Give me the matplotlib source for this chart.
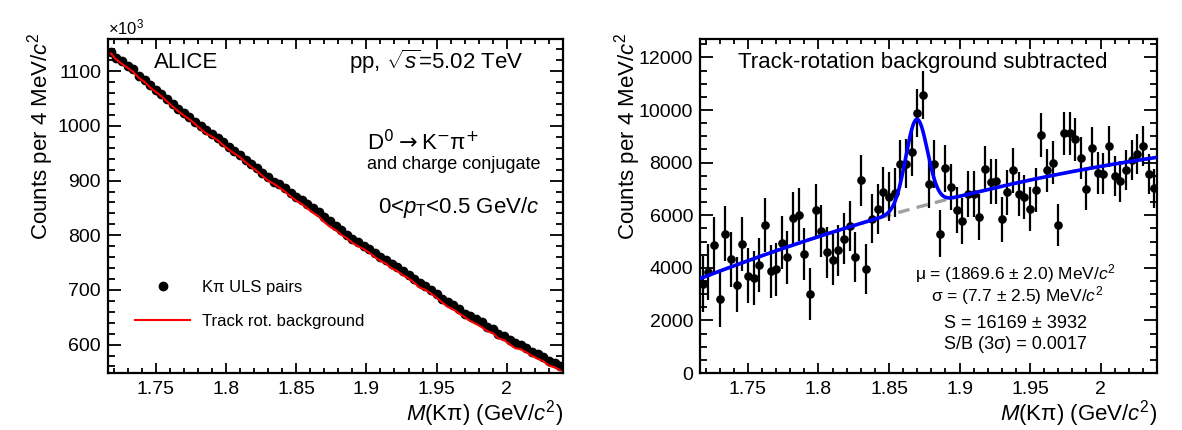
import numpy as np
import matplotlib
matplotlib.use('Agg')
import matplotlib.pyplot as plt
from matplotlib.ticker import MultipleLocator

plt.rcParams['font.family'] = ['Liberation Sans', 'DejaVu Sans']
plt.rcParams['mathtext.fontset'] = 'custom'
plt.rcParams['mathtext.rm'] = 'Liberation Sans'
plt.rcParams['mathtext.it'] = 'Liberation Sans:italic'
plt.rcParams['mathtext.bf'] = 'Liberation Sans:bold'

# ---------------- data ----------------
bin_width = 0.004          # GeV/c^2
mass_lo, mass_hi = 1.716, 2.040
n_bins = 81
mass_centers = mass_lo + bin_width * (np.arange(n_bins) + 0.5)

# K pi unlike-sign pair counts per bin (x10^3)
uls_counts_k = [1136, 1125, 1118, 1109, 1104, 1092, 1084, 1075, 1066, 1058,
                1049, 1041, 1031, 1023, 1017, 1008, 1000, 992, 985, 977,
                971, 962, 954, 947, 938, 930, 923, 913, 907, 898,
                893, 886, 878, 870, 864, 857, 849, 843, 834, 826,
                817, 809, 800, 794, 787, 781, 774, 767, 760, 754,
                747, 742, 734, 727, 720, 712, 707, 700, 692, 684,
                678, 672, 665, 656, 652, 647, 641, 633, 628, 620,
                616, 608, 602, 599, 593, 587, 582, 578, 570, 566,
                560]

# background-subtracted counts per bin
subtracted = [3370, 3830, 4860, 2815, 5300, 4320, 3355, 4910, 3705, 3620,
              4110, 5630, 3870, 3945, 4960, 4400, 5880, 6020, 4520, 3015,
              6200, 5390, 4590, 4310, 4660, 5110, 5590, 4420, 7320, 3970,
              5870, 6230, 6880, 6710, 6850, 7950, 7960, 8400, 9900, 10560,
              7190, 7950, 5300, 7790, 7070, 6200, 5790, 6800, 6810, 5940,
              7750, 7270, 7290, 5850, 6870, 7700, 6810, 6700, 6230, 6950,
              9050, 7700, 8000, 5630, 9110, 9110, 8880, 8190, 7000, 8560,
              7600, 7580, 8620, 7490, 7290, 7730, 8100, 8330, 8620, 7560,
              7020]
subtracted_err = [1066, 1061, 1057, 1053, 1051, 1045, 1041, 1037, 1032, 1029,
                  1024, 1020, 1015, 1011, 1008, 1004, 1000, 996, 992, 988,
                  985, 981, 977, 973, 968, 964, 961, 956, 952, 948,
                  945, 941, 937, 933, 930, 926, 921, 918, 913, 909,
                  904, 899, 894, 891, 887, 884, 880, 876, 872, 868,
                  864, 861, 857, 853, 849, 844, 841, 837, 832, 827,
                  823, 820, 815, 810, 807, 804, 801, 796, 792, 787,
                  785, 780, 776, 774, 770, 766, 763, 760, 755, 752,
                  748]

# fit parameters (Gaussian + 2nd order polynomial background)
fit_mu = 1.8696
fit_sigma = 0.0077
fit_signal = 16169
bkg_anchor_mass = [1.716, 1.870, 2.040]
bkg_anchor_val = [3590, 6300, 8200]

# track-rotation background = ULS pairs - subtracted
uls_counts = np.array(uls_counts_k) * 1e3
track_rot_bkg_k = (uls_counts - np.array(subtracted)) / 1e3

# ---------------- figure ----------------
W, H = 1182, 430
fig = plt.figure(figsize=(W / 100, H / 100), dpi=100)
ax1 = fig.add_axes([108 / W, 57 / H, 455 / W, 334 / H])
ax2 = fig.add_axes([700 / W, 57 / H, 457 / W, 334 / H])

for ax in (ax1, ax2):
    for s in ax.spines.values():
        s.set_linewidth(1.6)
    ax.tick_params(which='both', direction='in', top=True, right=True,
                   width=1.3, labelsize=14)
    ax.tick_params(axis='x', which='major', length=7.5, pad=6)
    ax.tick_params(axis='x', which='minor', length=3.8)
    ax.tick_params(axis='y', which='major', length=9.5, pad=5)
    ax.tick_params(axis='y', which='minor', length=4.8)
    ax.set_xlim(mass_lo, mass_hi)
    ax.xaxis.set_major_locator(MultipleLocator(0.05))
    ax.xaxis.set_minor_locator(MultipleLocator(0.01))
    ax.xaxis.set_major_formatter(plt.FuncFormatter(lambda v, p: f'{v:g}'))
    ax.set_xlabel(r'$M$(Kπ) (GeV/$c^{2}$)', fontsize=16, loc='right')
    ax.xaxis.set_label_coords(1.0, -0.075)
    ax.set_ylabel(r'Counts per 4 MeV/$c^{2}$', fontsize=16, loc='top')

# ---- left panel ----
ax1.set_ylim(548, 1159)
ax1.yaxis.set_major_locator(MultipleLocator(100))
ax1.yaxis.set_minor_locator(MultipleLocator(20))
ax1.yaxis.set_label_coords(-0.115, 1.02)
ax1.plot(mass_centers, uls_counts_k, 'o', color='black', ms=6, zorder=3,
         label='Kπ ULS pairs')
ax1.plot(mass_centers, track_rot_bkg_k, '-', color='#ff0000', lw=1.5, zorder=4,
         label='Track rot. background')
ax1.text(0.0, 1.005, r'×10$^{3}$', transform=ax1.transAxes,
         ha='left', va='bottom', fontsize=12)
ax1.text(0.102, 0.931, 'ALICE', transform=ax1.transAxes, fontsize=16,
         ha='left', va='center')
ax1.text(0.530, 0.931, r'pp, $\sqrt{s}$=5.02 TeV', transform=ax1.transAxes,
         fontsize=16, ha='left', va='center')
ax1.text(0.569, 0.689, r'D$^{0}\rightarrow$K$^{-}$π$^{+}$',
         transform=ax1.transAxes, fontsize=16, ha='left', va='center',
         math_fontfamily='dejavusans')
ax1.text(0.569, 0.623, 'and charge conjugate', transform=ax1.transAxes,
         fontsize=13, ha='left', va='center')
ax1.text(0.593, 0.497, r'0<$p_{\rm T}$<0.5 GeV/$c$', transform=ax1.transAxes,
         fontsize=16, ha='left', va='center')
ax1.legend(loc='upper left', bbox_to_anchor=(0.06, 0.279), frameon=False,
           fontsize=12, handlelength=3.3, handletextpad=0.7,
           labelspacing=1.15, borderpad=0, borderaxespad=0)

# ---- right panel ----
ax2.set_ylim(0, 12700)
ax2.yaxis.set_major_locator(MultipleLocator(2000))
ax2.yaxis.set_minor_locator(MultipleLocator(500))
ax2.yaxis.set_label_coords(-0.125, 1.02)

bkg_coef = np.polyfit(bkg_anchor_mass, bkg_anchor_val, 2)
m_fine = np.linspace(mass_lo, mass_hi, 600)
bkg_curve = np.polyval(bkg_coef, m_fine)
gauss_amp = fit_signal * bin_width / (np.sqrt(2 * np.pi) * fit_sigma)
total_curve = bkg_curve + gauss_amp * np.exp(-0.5 * ((m_fine - fit_mu) / fit_sigma) ** 2)

ax2.plot(m_fine, bkg_curve, color='#a0a0a0', lw=2.4, dashes=(3.5, 2.2), zorder=2)
ax2.plot(m_fine, total_curve, color='#0000ff', lw=2.6, zorder=4)
ax2.errorbar(mass_centers, subtracted, yerr=subtracted_err, fmt='o',
             color='black', ms=5.2, elinewidth=1.6, capsize=0, zorder=3)

ax2.text(0.488, 0.930, 'Track-rotation background subtracted',
         transform=ax2.transAxes, fontsize=16, ha='center', va='center')
ax2.text(0.691, 0.297, r'μ = (1869.6 ± 2.0) MeV/$c^{2}$',
         transform=ax2.transAxes, fontsize=12.5, ha='center', va='center')
ax2.text(0.694, 0.233, r'σ = (7.7 ± 2.5) MeV/$c^{2}$',
         transform=ax2.transAxes, fontsize=12.5, ha='center', va='center')
ax2.text(0.691, 0.149, 'S = 16169 ± 3932',
         transform=ax2.transAxes, fontsize=13, ha='center', va='center')
ax2.text(0.690, 0.084, 'S/B (3σ) = 0.0017',
         transform=ax2.transAxes, fontsize=13, ha='center', va='center')

fig.savefig('out.png', dpi=100)
